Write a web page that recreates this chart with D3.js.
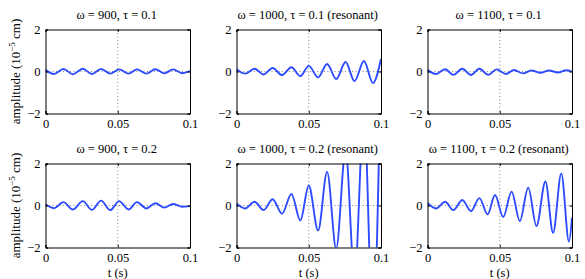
<!DOCTYPE html>
<html><head><meta charset="utf-8">
<script src="https://cdn.jsdelivr.net/npm/d3@7"></script>
<style>body{margin:0;background:#fff}svg{display:block}text{font-family:"Liberation Serif","Times New Roman",serif;fill:#000}</style>
</head><body>
<svg id="c" width="585" height="279" font-family="Liberation Serif"></svg>
<script>
// ---- data (extrema of each trace) ----
const titles = [
  "ω = 900, τ = 0.1", "ω = 1000, τ = 0.1 (resonant)", "ω = 1100, τ = 0.1",
  "ω = 900, τ = 0.2", "ω = 1000, τ = 0.2 (resonant)", "ω = 1100, τ = 0.2 (resonant)"
];
const xTicks = [0, 0.05, 0.1];
const xTickLabels = ["0", "0.05", "0.1"];
const yTicks = [-2, 0, 2];
const yTickLabels = ["−2", "0", "2"];

const t900 = [0, 0.0059, 0.0124, 0.0189, 0.0258, 0.0321, 0.0385, 0.0448, 0.0510, 0.0575, 0.0633, 0.0698, 0.0760, 0.0823, 0.0883, 0.0946, 0.1];
const a900_01 = [0.08, -0.12, 0.12, -0.13, 0.13, -0.12, 0.12, -0.1, 0.1, -0.1, 0.1, -0.1, 0.11, -0.09, 0.1, -0.08, 0.02];
const a900_02 = [0.06, -0.13, 0.16, -0.19, 0.21, -0.21, 0.23, -0.22, 0.21, -0.19, 0.16, -0.14, 0.11, -0.1, 0.07, -0.06, -0.03];

const t1000 = [0, 0.0060, 0.0125, 0.01875, 0.025, 0.0315, 0.038, 0.0442, 0.05, 0.0565, 0.0627, 0.069, 0.0755, 0.0817, 0.0882, 0.0944, 0.1];
const a1000_01 = [0.11, -0.1, 0.13, -0.14, 0.17, -0.17, 0.2, -0.22, 0.27, -0.28, 0.36, -0.36, 0.45, -0.46, 0.5, -0.55, 0.6];
const a1000_02 = [0.1, -0.14, 0.18, -0.22, 0.3, -0.39, 0.55, -0.71, 0.95, -1.19, 1.6, -2.05, 2.6, -3.4, 4.4, -5.7, 7.0];

const t1100a = [0, 0.0060, 0.0122, 0.0179, 0.0241, 0.0301, 0.0359, 0.0421, 0.0478, 0.0543, 0.0598, 0.0662, 0.0719, 0.0782, 0.0841, 0.0903, 0.0961, 0.1];
const a1100_01 = [0.08, -0.12, 0.11, -0.16, 0.13, -0.17, 0.13, -0.16, 0.1, -0.12, 0.07, -0.09, 0.05, -0.06, 0.05, -0.05, 0.06, -0.01];
const t1100b = [0, 0.0060, 0.0122, 0.0179, 0.0241, 0.0301, 0.0359, 0.0416, 0.0467, 0.0524, 0.0582, 0.0639, 0.0697, 0.0754, 0.0816, 0.0869, 0.0926, 0.0979, 0.1];
const a1100_02 = [0.12, -0.14, 0.18, -0.22, 0.26, -0.27, 0.35, -0.42, 0.5, -0.55, 0.66, -0.74, 0.85, -0.98, 1.14, -1.3, 1.53, -1.72, -0.58];

const panels = [
  {t: t900, a: a900_01}, {t: t1000, a: a1000_01}, {t: t1100a, a: a1100_01},
  {t: t900, a: a900_02}, {t: t1000, a: a1000_02}, {t: t1100b, a: a1100_02}
];

// ---- layout ----
const colX = [45.5, 236.5, 427.5], pw = 144.5;
const rowY = [29.5, 163.5], ph = 84;
const svg = d3.select("#c");
const blue = "#2e4cff";
const SERIF = '"Liberation Serif", "Times New Roman", serif';

panels.forEach((p, i) => {
  const col = i % 3, row = Math.floor(i / 3);
  const x0 = colX[col], y0 = rowY[row];
  const x = d3.scaleLinear().domain([0, 0.1]).range([x0, x0 + pw]);
  const y = d3.scaleLinear().domain([-2, 2]).range([y0 + ph, y0]);
  const g = svg.append("g");

  const cid = "clip" + i;
  svg.append("clipPath").attr("id", cid).append("rect")
    .attr("x", x0).attr("y", y0).attr("width", pw).attr("height", ph);

  // dotted grid
  g.selectAll(".gx").data(xTicks.slice(1, -1)).join("line")
    .attr("x1", d => x(d)).attr("x2", d => x(d)).attr("y1", y0).attr("y2", y0 + ph)
    .attr("stroke", "#666").attr("stroke-width", 0.8).attr("stroke-dasharray", "1,2.5");
  g.selectAll(".gy").data(yTicks.slice(1, -1)).join("line")
    .attr("y1", d => y(d)).attr("y2", d => y(d)).attr("x1", x0).attr("x2", x0 + pw)
    .attr("stroke", "#666").attr("stroke-width", 0.8).attr("stroke-dasharray", "1,2.5");

  // trace
  const line = d3.line().x((d, k) => x(p.t[k])).y(d => y(d)).curve(d3.curveMonotoneX);
  g.append("path").attr("clip-path", `url(#${cid})`).attr("d", line(p.a))
    .attr("fill", "none").attr("stroke", blue).attr("stroke-width", 1.9);

  // axes (box with inside ticks)
  const ax = d3.axisBottom(x).tickValues(xTicks).tickSize(-2.5).tickPadding(6)
    .tickFormat((d, k) => xTickLabels[k]);
  g.append("g").attr("transform", `translate(0,${y0 + ph})`).call(ax);
  const ay = d3.axisLeft(y).tickValues(yTicks).tickSize(-2.5).tickPadding(5)
    .tickFormat((d, k) => yTickLabels[k]);
  g.append("g").attr("transform", `translate(${x0},0)`).call(ay);
  g.append("g").attr("transform", `translate(0,${y0})`)
    .call(d3.axisTop(x).tickValues(xTicks).tickSize(-2.5).tickFormat(""));
  g.append("g").attr("transform", `translate(${x0 + pw},0)`)
    .call(d3.axisRight(y).tickValues(yTicks).tickSize(-2.5).tickFormat(""));
  g.selectAll("g").attr("font-family", SERIF).attr("font-size", 12.5);
  g.selectAll(".domain").attr("stroke", "#000").attr("stroke-width", 1);
  g.selectAll(".tick line").attr("stroke", "#000");
  g.selectAll(".tick text").style("font-family", SERIF).style("font-size", "12.5px").attr("fill", "#111");

  // title
  g.append("text").attr("x", x0 + pw / 2 - 1).attr("y", y0 - 10.5)
    .attr("text-anchor", "middle").style("font-family", SERIF).style("font-size", "12.5px")
    .attr("fill", "#111").text(titles[i]);

  // y label
  if (col === 0) {
    const yl = g.append("text").attr("transform", `translate(20,${y0 + ph / 2}) rotate(-90)`)
      .attr("text-anchor", "middle").style("font-family", SERIF).style("font-size", "13px").attr("fill", "#111");
    yl.append("tspan").text("amplitude (10");
    yl.append("tspan").attr("dy", -5).style("font-size", "9px").text("−5");
    yl.append("tspan").attr("dy", 5).text(" cm)");
  }
  // x label
  if (row === 1) {
    g.append("text").attr("x", x0 + pw / 2).attr("y", 276.5)
      .attr("text-anchor", "middle").style("font-family", SERIF).style("font-size", "12.5px")
      .attr("fill", "#111").text("t (s)");
  }
});
</script>
</body></html>
